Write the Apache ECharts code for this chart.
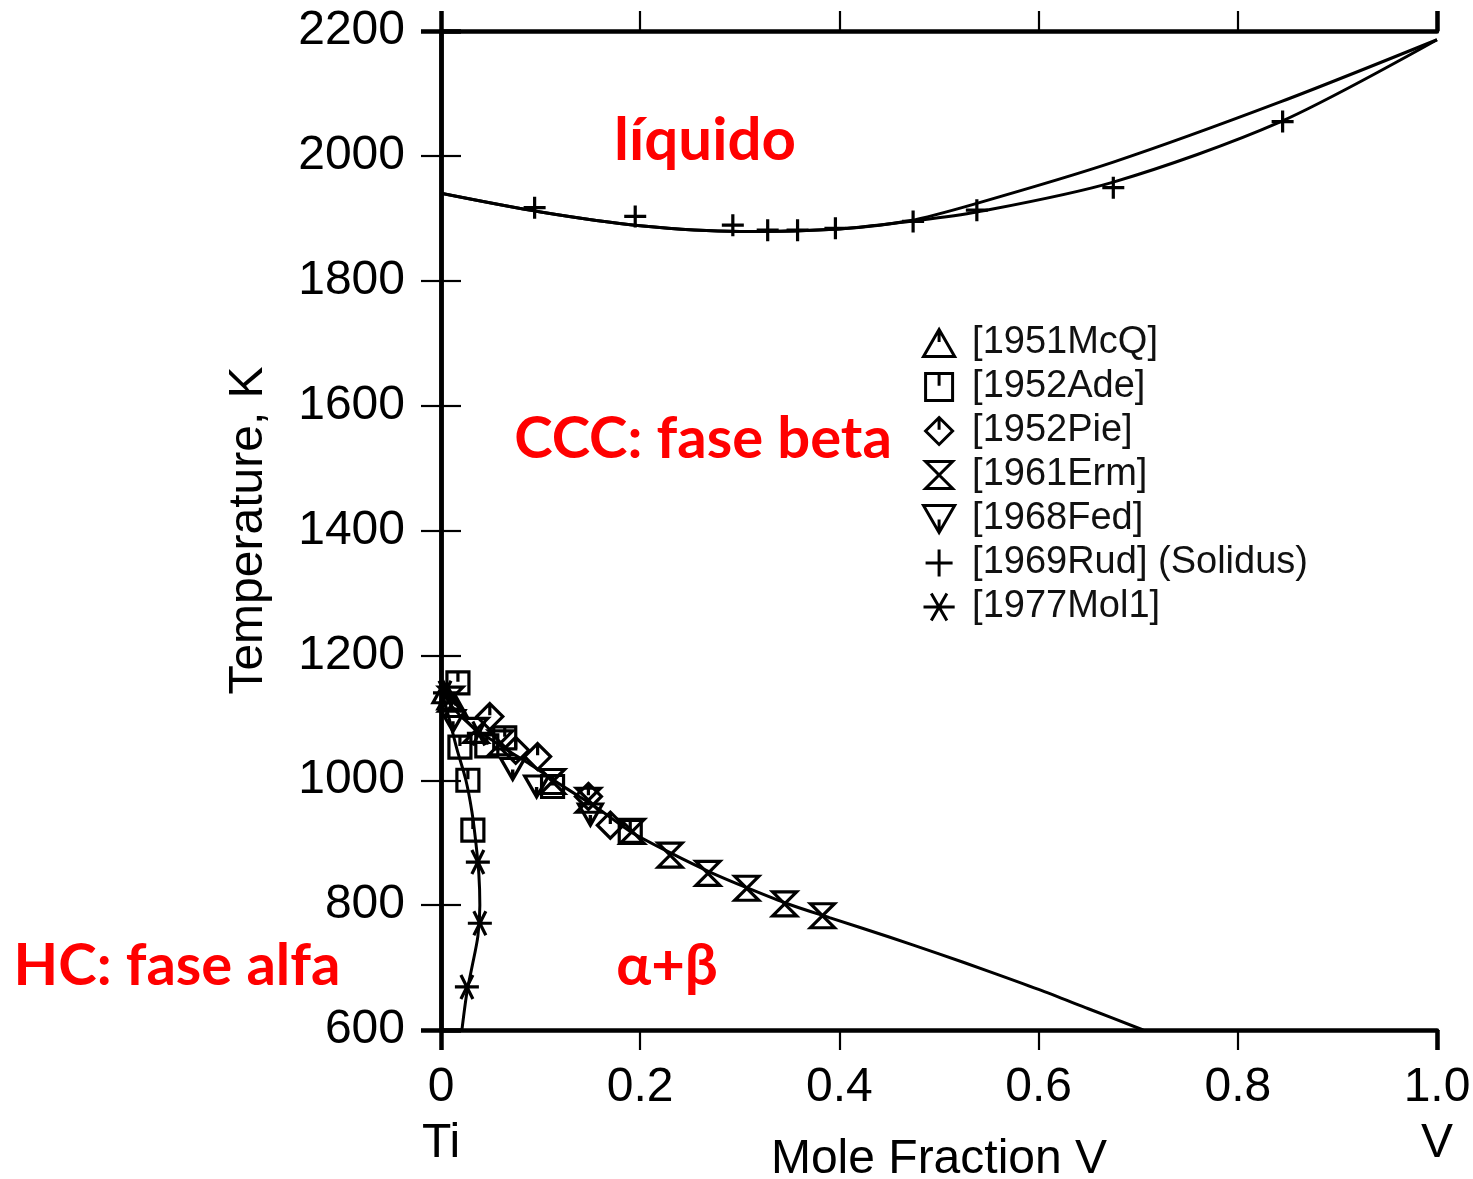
<!DOCTYPE html>
<html><head><meta charset="utf-8">
<script src="https://cdn.jsdelivr.net/npm/echarts@6/dist/echarts.min.js"></script>
<style>html,body{margin:0;padding:0;background:#fff}#c{width:1473px;height:1179px}</style>
</head><body><div id="c"></div>
<script>
// ---- data (mole fraction V, temperature K) ----
const xTickValues = [0, 0.2, 0.4, 0.6, 0.8, 1.0];
const yTickValues = [600, 800, 1000, 1200, 1400, 1600, 1800, 2000, 2200];

const liquidus = [[0,1940],[0.1,1910],[0.2,1888],[0.3,1879],[0.4,1883],[0.47,1896],[0.538,1924],[0.675,1990],[0.842,2086],[1,2186]];
const solidus  = [[0,1940],[0.1,1910],[0.2,1888],[0.3,1879],[0.4,1883],[0.47,1895],[0.538,1910],[0.675,1958],[0.842,2054],[1,2186]];
const betaTransus = [[0,1148],[0.01,1120],[0.03,1088],[0.06,1055],[0.09,1025],[0.12,993],[0.16,952],[0.19,918],[0.23,884],[0.27,853],[0.31,826],[0.35,801],[0.39,780],[0.45,749],[0.5,722],[0.55,694],[0.6,665],[0.65,634],[0.705,600]];
const alphaTransus = [[0,1148],[0.008,1100],[0.016,1050],[0.025,1000],[0.031,950],[0.035,900],[0.038,850],[0.039,800],[0.037,750],[0.031,700],[0.026,660],[0.021,600]];

const names = ['[1951McQ]','[1952Ade]','[1952Pie]','[1961Erm]','[1968Fed]','[1969Rud] (Solidus)','[1977Mol1]'];
const mcq1951 = [[0.003,1140],[0.008,1130],[0.015,1118]];
const ade1952 = [[0.017,1156],[0.019,1053],[0.027,1000],[0.032,920],[0.046,1055],[0.064,1068],[0.112,990],[0.19,918]];
const pie1952 = [[0.049,1102],[0.075,1048],[0.097,1038],[0.148,974],[0.17,928]];
const erm1961 = [[0.01,1130],[0.035,1080],[0.06,1060],[0.112,998],[0.148,968],[0.192,918],[0.23,880],[0.268,851],[0.307,827],[0.345,802],[0.383,783]];
const fed1968 = [[0.012,1095],[0.072,1018],[0.096,990],[0.15,945]];
const rud1969 = [[0.094,1917],[0.195,1903],[0.293,1889],[0.328,1881],[0.358,1881],[0.396,1884],[0.474,1895],[0.538,1913],[0.675,1949],[0.845,2055]];
const mol1977 = [[0.004,1140],[0.038,1075],[0.037,869],[0.039,771],[0.026,669]];

const regionLabels = ['líquido','CCC: fase beta','HC: fase alfa','α+β'];

// ---- symbols ----
const SYM = {
  tri: 'path://M5,0L10,8.66L0,8.66Z M5,0L5,4',
  sq: 'path://M0,0L10,0L10,10L0,10Z M5,0L5,4.5',
  dia: 'path://M5,0L10,5L5,10L0,5Z M5,0L5,4.5',
  hour: 'path://M0,0L10,0L0,10L10,10Z',
  inv: 'path://M0,0L10,0L5,8.66Z M5,8.66L5,4.5',
  plus: 'path://M0,5L10,5M5,0L5,10',
  ast: 'path://M0,5L10,5M2.5,0.67L7.5,9.33M2.5,9.33L7.5,0.67'
};
const openStyle = {color:'rgba(0,0,0,0)', borderColor:'#000', borderWidth:3.2, opacity:1};
function sc(name, data, sym, size){
  return {name, type:'scatter', data, symbol:sym, symbolSize:size, itemStyle:openStyle, z:4, emphasis:{disabled:true}};
}
function ln(data){
  return {type:'line', data, smooth:0.3, symbol:'none', lineStyle:{color:'#000', width:3}, z:3, silent:true};
}

const FONT = 'Liberation Sans';
const chart = echarts.init(document.getElementById('c'));
const tickStyle = {show:true, inside:false, length:20, lineStyle:{color:'#000', width:2.2}};
const endTick = {show:true, inside:false, length:20, lineStyle:{color:'#000', width:4.5}};
const axisLineStyle = {show:true, lineStyle:{color:'#000', width:4.5}};

chart.setOption({
  animation:false,
  backgroundColor:'#fff',
  grid:{left:441, top:31, right:36, bottom:149, containLabel:false, outerBoundsMode:'none'},
  xAxis:[
    {type:'value', position:'bottom', min:0, max:1, interval:0.2,
     axisLine:axisLineStyle, axisTick:tickStyle, splitLine:{show:false},
     axisLabel:{margin:30, fontFamily:FONT, fontSize:48, color:'#000', lineHeight:56,
       formatter:v => v===0 ? '0\nTi' : (v===1 ? '1.0\nV' : v.toFixed(1))},
     name:'Mole Fraction V', nameLocation:'middle', nameGap:106, nameMoveOverlap:false,
     nameTextStyle:{fontFamily:FONT, fontSize:48, color:'#000'}},
    {type:'value', position:'top', min:0, max:1, interval:0.2,
     axisLine:axisLineStyle, axisTick:tickStyle, axisLabel:{show:false}, splitLine:{show:false}},
    {type:'value', position:'bottom', min:0, max:1,
     axisLine:{show:false}, axisTick:Object.assign({customValues:[0,1]}, endTick), axisLabel:{show:false}, splitLine:{show:false}},
    {type:'value', position:'top', min:0, max:1,
     axisLine:{show:false}, axisTick:Object.assign({customValues:[0,1]}, endTick), axisLabel:{show:false}, splitLine:{show:false}}
  ],
  yAxis:[
    {type:'value', position:'left', min:600, max:2200, interval:200,
     axisLine:axisLineStyle, axisTick:tickStyle, splitLine:{show:false},
     axisLabel:{margin:36, fontFamily:FONT, fontSize:48, color:'#000', formatter:v => String(v)},
     name:'Temperature, K', nameLocation:'middle', nameGap:168, nameRotate:90, nameMoveOverlap:false,
     nameTextStyle:{fontFamily:FONT, fontSize:48, color:'#000'}},
    {type:'value', position:'right', min:600, max:2200, interval:200,
     axisLine:axisLineStyle, axisTick:tickStyle, axisLabel:{show:false}, splitLine:{show:false}},
    {type:'value', position:'left', min:600, max:2200,
     axisLine:{show:false}, axisTick:Object.assign({customValues:[600,2200]}, endTick), axisLabel:{show:false}, splitLine:{show:false}},
    {type:'value', position:'right', min:600, max:2200,
     axisLine:{show:false}, axisTick:Object.assign({customValues:[600,2200]}, endTick), axisLabel:{show:false}, splitLine:{show:false}}
  ],
  legend:{
    data:names, orient:'vertical', left:917, top:316, itemWidth:56, itemHeight:27, itemGap:0,
    selectedMode:false,
    textStyle:{fontFamily:FONT, fontSize:38, color:'#111', lineHeight:44},
    itemStyle:{color:'rgba(0,0,0,0)', borderColor:'#000', borderWidth:3}
  },
  graphic:[
    {type:'text', x:705, y:141, z:10, style:{text:regionLabels[0], fill:'#f00', fontFamily:'Lato', fontWeight:'bold', fontSize:60, align:'center', verticalAlign:'middle'}},
    {type:'text', x:703, y:439, z:10, style:{text:regionLabels[1], fill:'#f00', fontFamily:'Lato', fontWeight:'bold', fontSize:58, align:'center', verticalAlign:'middle'}},
    {type:'text', x:177, y:966, z:10, style:{text:regionLabels[2], fill:'#f00', fontFamily:'Lato', fontWeight:'bold', fontSize:58, align:'center', verticalAlign:'middle'}},
    {type:'text', x:667, y:966, z:10, style:{text:regionLabels[3], fill:'#f00', fontFamily:'Lato', fontWeight:'bold', fontSize:58, align:'center', verticalAlign:'middle'}}
  ],
  series:[
    ln(liquidus), ln(solidus), ln(betaTransus), ln(alphaTransus),
    sc(names[0], mcq1951, SYM.tri, [22,20]),
    sc(names[1], ade1952, SYM.sq, 22),
    sc(names[2], pie1952, SYM.dia, 26),
    sc(names[3], erm1961, SYM.hour, 24),
    sc(names[4], fed1968, SYM.inv, [24,21]),
    sc(names[5], rud1969, SYM.plus, 22),
    sc(names[6], mol1977, SYM.ast, 24)
  ]
});
</script></body></html>
